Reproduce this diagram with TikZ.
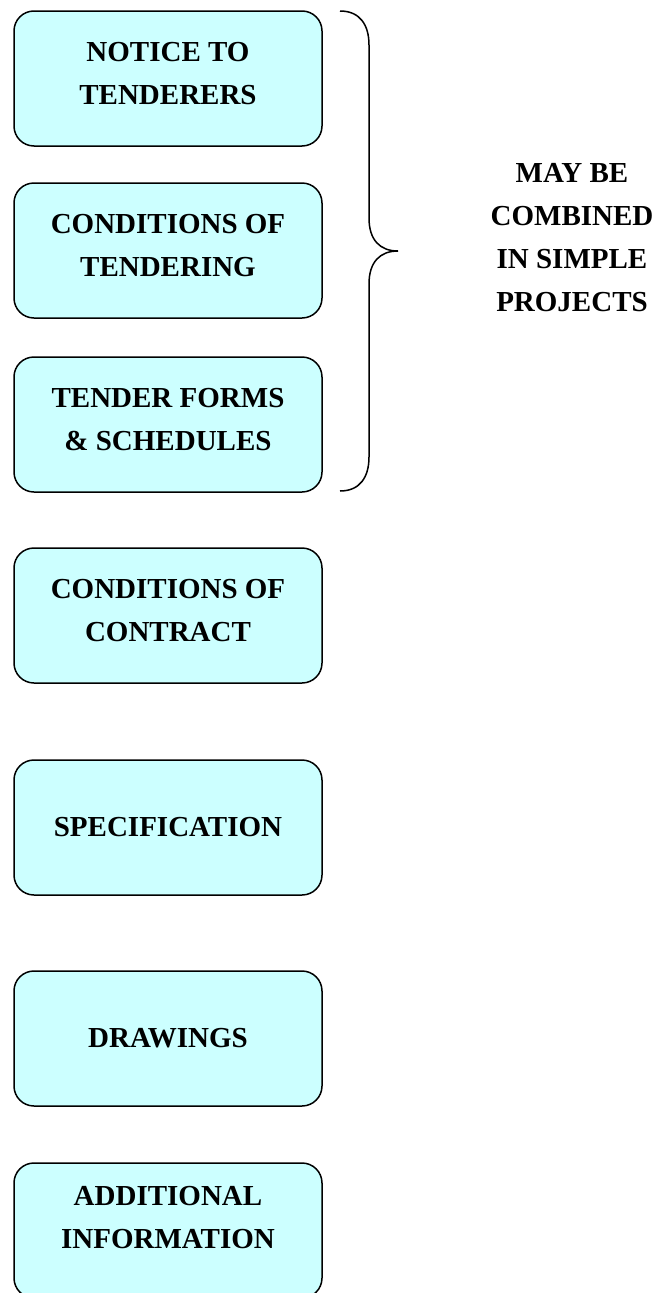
\documentclass[tikz,border=0pt]{standalone}
\usepackage{fontspec}
\setmainfont{Liberation Serif}
\definecolor{boxfill}{HTML}{CCFFFF}
\begin{document}
\begin{tikzpicture}[x=1pt,y=-1pt,
  docbox/.style={draw=black, line width=1.5pt, fill=boxfill, rounded corners=20pt,
    minimum width=308pt, minimum height=135pt, inner sep=0pt},
  boxtext/.style={align=center, inner sep=0pt, font=\bfseries\fontsize{29}{43}\selectfont},
  bracestyle/.style={draw=black, line width=1.5pt}]
\useasboundingbox (0,0) rectangle (657,1293);
\clip (0,0) rectangle (657,1293);
\node[docbox] (b1) at (168,78.5) {};
\node[docbox] (b2) at (168,250.5) {};
\node[docbox] (b3) at (168,424.5) {};
\node[docbox] (b4) at (168,615.5) {};
\node[docbox] (b5) at (168,827.5) {};
\node[docbox] (b6) at (168,1038.5) {};
\node[docbox] (b7) at (168,1230.5) {};
\node[boxtext] (t1) at ([yshift=5pt]b1.center) {NOTICE TO\\TENDERERS};
\node[boxtext] (t2) at ([yshift=5pt]b2.center) {CONDITIONS OF\\TENDERING};
\node[boxtext] (t3) at ([yshift=5pt]b3.center) {TENDER FORMS\\\& SCHEDULES};
\node[boxtext] (t4) at ([yshift=5pt]b4.center) {CONDITIONS OF\\CONTRACT};
\node[boxtext] (t5) at (b5.center) {SPECIFICATION};
\node[boxtext] (t6) at (b6.center) {DRAWINGS};
\node[boxtext] (t7) at ([yshift=13pt]b7.center) {ADDITIONAL\\INFORMATION};
\node[boxtext] (note) at (572,238) {MAY BE\\COMBINED\\IN SIMPLE\\PROJECTS};
\draw[bracestyle] (340,11) .. controls (360,11) and (369,25) .. (369,45)
  -- (369,218) .. controls (369,240) and (380,251) .. (398,251)
  .. controls (380,251) and (369,262) .. (369,284)
  -- (369,457) .. controls (369,477) and (360,491) .. (340,491);
\end{tikzpicture}
\end{document}
